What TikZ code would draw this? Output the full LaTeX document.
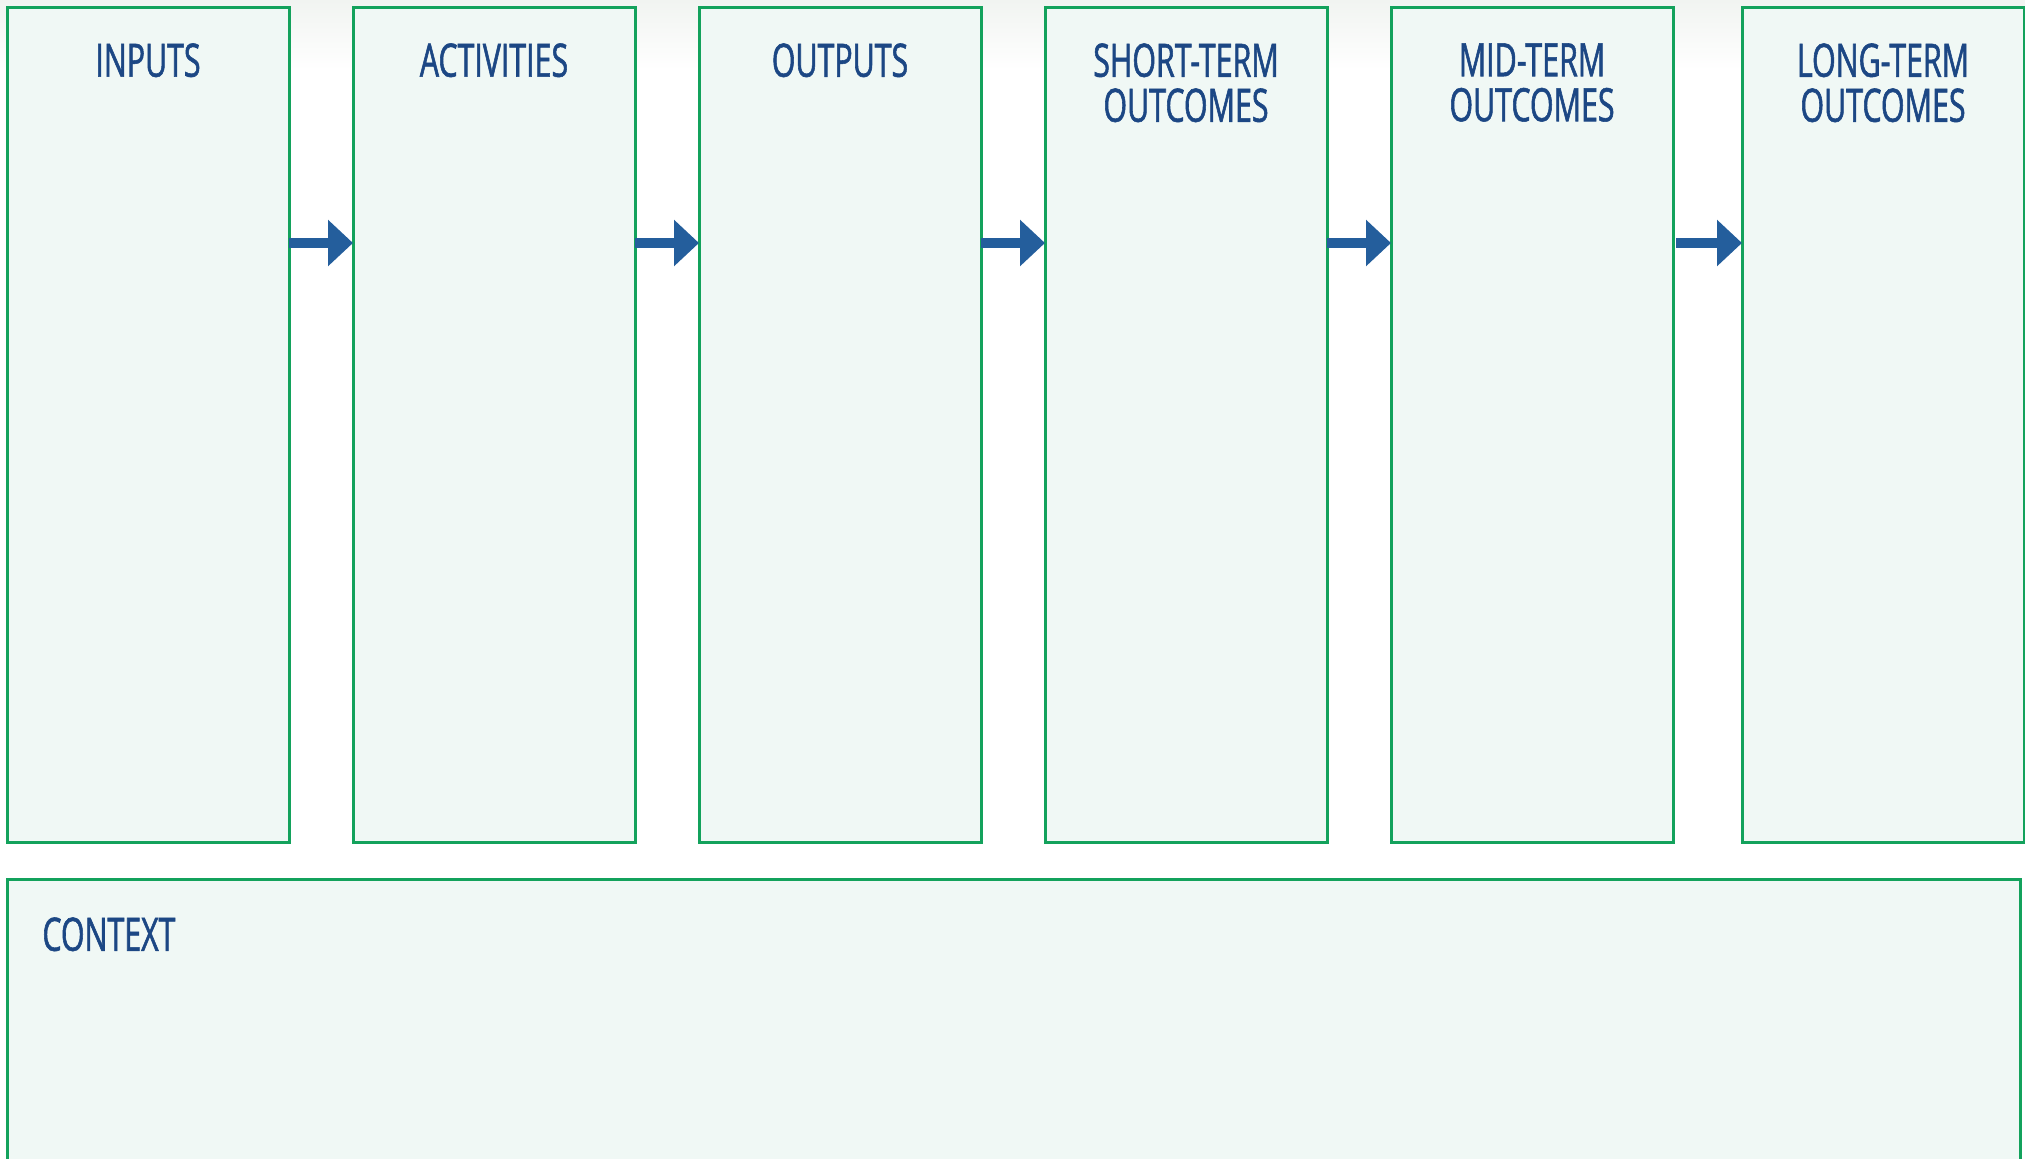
\documentclass[tikz,border=0pt]{standalone}
\usepackage{fontspec}
\setmainfont{Open Sans}[FakeStretch=0.66,FakeBold=1.2]
\usetikzlibrary{arrows.meta}
\definecolor{framegreen}{HTML}{13A25C}
\definecolor{panelfill}{HTML}{F0F8F5}
\definecolor{titleblue}{HTML}{1C4784}
\definecolor{arrowblue}{HTML}{245E9C}
\definecolor{topshade}{HTML}{F1F4F1}
\begin{document}
\begin{tikzpicture}[x=0.5pt,y=-0.5pt,
  panel/.style={draw=framegreen, fill=panelfill, line width=1.5pt, inner sep=0pt, outer sep=0pt,
    anchor=north west, minimum width=141pt, minimum height=417.5pt},
  heading/.style={text=titleblue, font=\fontsize{23}{22.5}\selectfont, align=center,
    anchor=north, inner sep=0pt},
  flow/.style={draw=arrowblue, line width=5pt, -{Triangle[length=12.5pt,width=22.5pt]}}]
  \useasboundingbox (0,0) rectangle (2025,1158);
  \clip (0,0) rectangle (2025,1158);
  % faint grey band along the top edge
  \shade[top color=topshade, bottom color=white] (0,0) rectangle (2025,70);

  % the six stage columns
  \node[panel] (inputs)     at (7,7)    {};
  \node[panel] (activities) at (353,7)  {};
  \node[panel] (outputs)    at (699,7)  {};
  \node[panel] (shortterm)  at (1045,7) {};
  \node[panel] (midterm)    at (1391,7) {};
  \node[panel] (longterm)   at (1742,7) {};

  % column headings
  \node[heading] (inputs-t)     at (148,43)  {INPUTS};
  \node[heading] (activities-t) at (494,43)  {ACTIVITIES};
  \node[heading] (outputs-t)    at (840,43)  {OUTPUTS};
  \node[heading] (shortterm-t)  at (1186,43) {SHORT-TERM\\OUTCOMES};
  \node[heading] (midterm-t)    at (1532,43) {MID-TERM\\OUTCOMES};
  \node[heading] (longterm-t)   at (1883,43) {LONG-TERM\\OUTCOMES};

  % context panel along the bottom
  \node[panel, minimum width=1006.5pt, minimum height=160pt] (context) at (7,879) {};
  \node[heading, anchor=north west] (context-t) at (42,917) {CONTEXT};

  % flow arrows between the stages
  \coordinate (flowline) at (0,243);
  \draw[flow] (inputs.east |- flowline) -- (activities.west |- flowline);
  \draw[flow] (activities.east |- flowline) -- (outputs.west |- flowline);
  \draw[flow] (outputs.east |- flowline) -- (shortterm.west |- flowline);
  \draw[flow] (shortterm.east |- flowline) -- (midterm.west |- flowline);
  \draw[flow, shorten <=1.5pt] (midterm.east |- flowline) -- (longterm.west |- flowline);
\end{tikzpicture}
\end{document}
